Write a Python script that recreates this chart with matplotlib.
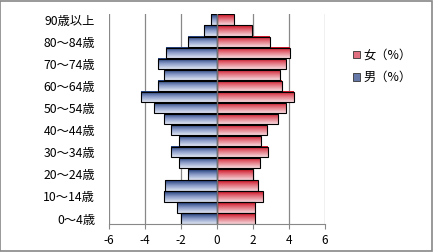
import numpy as np
import matplotlib
matplotlib.use('Agg')
from matplotlib import pyplot as plt
from matplotlib.colors import LinearSegmentedColormap
from matplotlib.patches import Rectangle

plt.rcParams['font.family'] = ['Noto Sans CJK JP', 'DejaVu Sans']

# age groups, bottom to top
ages = ['0～4歳', '5～9歳', '10～14歳', '15～19歳', '20～24歳', '25～29歳',
        '30～34歳', '35～39歳', '40～44歳', '45～49歳', '50～54歳', '55～59歳',
        '60～64歳', '65～69歳', '70～74歳', '75～79歳', '80～84歳', '85～89歳',
        '90歳以上']
male = [1.98, 2.24, 2.96, 2.91, 1.63, 2.13, 2.58, 2.13, 2.58, 2.96, 3.48,
        4.22, 3.28, 2.94, 3.28, 2.83, 1.6, 0.7, 0.33]
female = [2.09, 2.09, 2.54, 2.26, 2.0, 2.39, 2.83, 2.43, 2.76, 3.39, 3.83,
          4.26, 3.61, 3.48, 3.83, 4.04, 2.92, 1.94, 0.92]
xticks = [-6, -4, -2, 0, 2, 4, 6]

cm_m = LinearSegmentedColormap.from_list('m', ['#dfe5f2', '#8a9cc8', '#1f3a78'])
cm_f = LinearSegmentedColormap.from_list('f', ['#f6d8dc', '#e47a86', '#cc1020'])
grad = np.linspace(0, 1, 64).reshape(-1, 1)

fig = plt.figure(figsize=(4.33, 2.52), dpi=100)
ax = fig.add_axes([0.2517, 0.111, 0.4989, 0.833])

h = 0.94
for i in range(len(ages)):
    for v, cm in ((-male[i], cm_m), (female[i], cm_f)):
        x0, x1 = min(0, v), max(0, v)
        ax.imshow(grad, cmap=cm, extent=(x0, x1, i - h / 2, i + h / 2),
                  aspect='auto', origin='lower', zorder=2, interpolation='bilinear')
        ax.add_patch(Rectangle((x0, i - h / 2), x1 - x0, h, fill=False,
                               edgecolor='black', linewidth=0.8, zorder=3))

ax.set_xlim(-6, 6)
ax.set_ylim(-0.5, len(ages) - 0.5)
ax.set_xticks(xticks)
ax.set_xticklabels([str(t) for t in xticks], fontsize=8.5)
ax.set_yticks(range(0, len(ages), 2))
ax.set_yticklabels(ages[::2], fontsize=8.8)
ax.tick_params(axis='y', length=0, pad=10)
ax.tick_params(axis='x', length=3.5, color='#888888', pad=4)

for x in xticks:
    if x != 0:
        ax.axvline(x, color='#888888', linewidth=0.9, zorder=1)
ax.axvline(0, color='#707070', linewidth=1.0, zorder=4)

for s in ['top', 'right', 'left']:
    ax.spines[s].set_visible(False)
ax.spines['bottom'].set_color('#888888')

# legend
hf = Rectangle((0, 0), 1, 1, facecolor='#e07080', edgecolor='#333333', linewidth=0.6)
hm = Rectangle((0, 0), 1, 1, facecolor='#6678a8', edgecolor='#333333', linewidth=0.6)
fig.legend([hf, hm], ['女（%）', '男（%）'], loc='upper left',
           bbox_to_anchor=(0.79, 0.85), frameon=False, fontsize=8.8,
           handlelength=0.6, handleheight=0.6, handletextpad=0.25, labelspacing=0.75)

fig.patches.append(Rectangle((0.001, 0.002), 0.997, 0.995, transform=fig.transFigure,
                             fill=False, edgecolor='#888888', linewidth=1.2))

fig.savefig('out.png', dpi=100)
